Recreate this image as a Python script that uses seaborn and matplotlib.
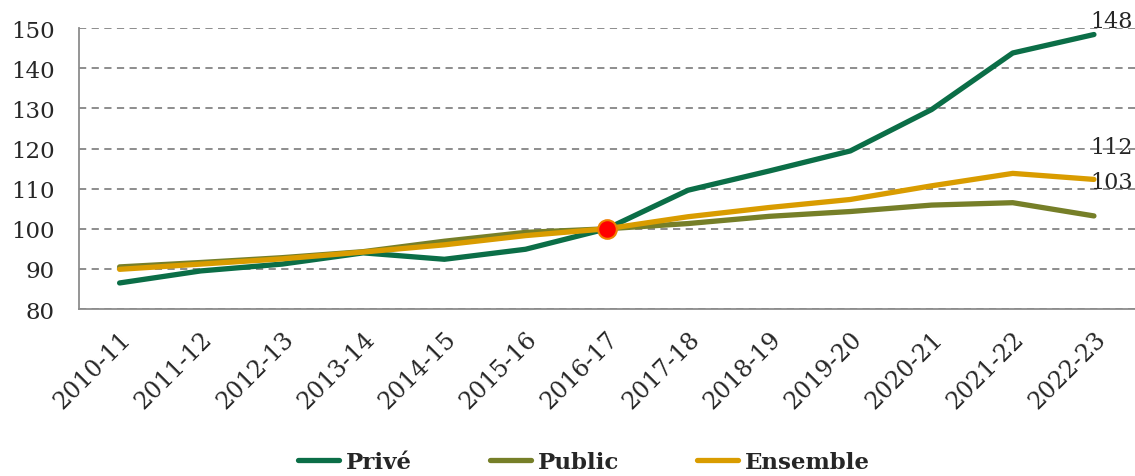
import matplotlib
matplotlib.use('Agg')
import pandas as pd
import seaborn as sns
from matplotlib import pyplot as plt

years = ['2010-11', '2011-12', '2012-13', '2013-14', '2014-15', '2015-16', '2016-17',
         '2017-18', '2018-19', '2019-20', '2020-21', '2021-22', '2022-23']
prive = [86.5, 89.5, 91.2, 94.0, 92.4, 94.9, 100.0, 109.6, 114.4, 119.4, 129.7, 143.8, 148.4]
public = [90.5, 91.6, 92.8, 94.3, 96.9, 99.1, 100.0, 101.3, 103.1, 104.3, 105.9, 106.5, 103.2]
ensemble = [89.9, 91.2, 92.5, 94.2, 96.0, 98.3, 100.0, 103.0, 105.3, 107.3, 110.7, 113.8, 112.3]
series_names = ['Privé', 'Public', 'Ensemble']
colors = ['#0b6e47', '#767f28', '#d99c00']
end_labels = ['148', '103', '112']

df = pd.DataFrame({'x': list(range(len(years))) * 3,
                   'value': prive + public + ensemble,
                   'serie': [s for s in series_names for _ in years]})

sns.set_style('white')
plt.rcParams['font.family'] = ['DejaVu Serif']

fig = plt.figure(figsize=(11.35, 4.77), dpi=100)
ax = fig.add_axes([0.0696, 0.350, 0.93, 0.589])

sns.lineplot(data=df, x='x', y='value', hue='serie', palette=colors,
             linewidth=3.8, ax=ax, legend=False, solid_capstyle='round')

# point de référence 2016-17 = 100
ref_idx = years.index('2016-17')
ax.scatter([ref_idx], [prive[ref_idx]], s=180, color='#ff0000',
           edgecolor='#f08000', linewidth=1.5, zorder=5)

# étiquettes de fin
last = len(years) - 1
ax.text(last + 0.22, prive[-1] + 0.6, end_labels[0], ha='center', va='bottom', fontsize=16)
ax.text(last + 0.22, ensemble[-1] + 8.0, end_labels[2], ha='center', va='center', fontsize=16)
ax.text(last + 0.22, public[-1] + 8.4, end_labels[1], ha='center', va='center', fontsize=16)

ax.set_ylim(80, 150)
ax.set_yticks(range(80, 151, 10))
ax.set_xlim(-0.5, len(years) - 0.5)
ax.yaxis.grid(True, linestyle=(0, (4, 3)), color='#858585', linewidth=1.3)
ax.set_axisbelow(True)

ax.set_xticks([i - 0.5 for i in range(len(years) + 1)])
ax.set_xticklabels([])
ax.set_xticks(range(len(years)), minor=True)
ax.set_xticklabels(years, minor=True, rotation=45, ha='right', rotation_mode='anchor', fontsize=17)
ax.tick_params(axis='x', which='major', length=7, width=1.3, color='#8c8c8c', direction='out')
ax.tick_params(axis='x', which='minor', length=0, pad=13)
ax.tick_params(axis='y', length=6.5, width=1.3, color='#8c8c8c', labelsize=16.5, pad=11)

for side in ['top', 'right']:
    ax.spines[side].set_visible(False)
for side in ['left', 'bottom']:
    ax.spines[side].set_color('#8c8c8c')
    ax.spines[side].set_linewidth(1.3)
ax.set_xlabel('')
ax.set_ylabel('')

handles = [plt.Line2D([], [], color=c, linewidth=3.8, solid_capstyle='round') for c in colors]
fig.legend(handles, series_names, loc='center', bbox_to_anchor=(0.5145, 0.029), ncol=3,
           frameon=False, handlelength=1.8, handletextpad=0.3, columnspacing=3.4,
           prop={'weight': 'bold', 'size': 16.5})

plt.savefig('out.png', dpi=100)
